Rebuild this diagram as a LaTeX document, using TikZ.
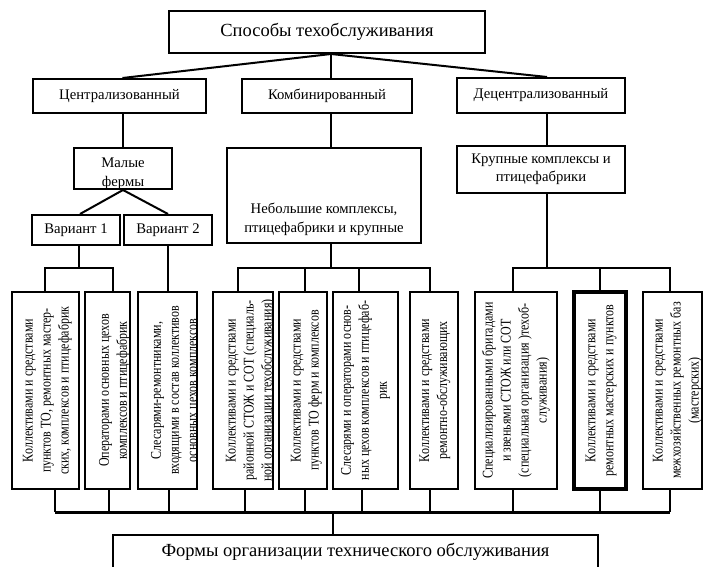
\documentclass[tikz,border=0pt]{standalone}
\usepackage{fontspec}
\setmainfont{Liberation Serif}
\newfontfamily\narrowfont[FakeStretch=0.81]{Liberation Serif}
\begin{document}
\begin{tikzpicture}[x=1pt,y=-1pt,
      box/.style={draw,line width=2pt,inner sep=2pt,align=center,font=\fontsize{14.7}{18.5}\selectfont},
      bigbox/.style={box,font=\fontsize{18.5}{22}\selectfont},
      ptext/.style={draw=none,anchor=north,align=center,inner sep=0pt,minimum width=0pt,minimum height=0pt,font=\fontsize{14.7}{18.5}\selectfont},
      vbox/.style={draw,minimum height=197pt},
      vtext/.style={draw=none,rotate=90,anchor=north,align=center,inner sep=0pt,minimum width=0pt,minimum height=0pt,font=\narrowfont\fontsize{14.8}{18}\selectfont},
      link/.style={line width=2pt},
      bus/.style={line width=3pt}]
    \clip (0,0) rectangle (704,567);
    \node[bigbox,minimum width=316pt,minimum height=42pt] (top) at (327,32) {Способы техобслуживания};
    \node[box,minimum width=173pt,minimum height=34pt] (cent) at (119.5,96) {Централизованный};
    \node[box,minimum width=170pt,minimum height=34pt] (comb) at (327,96) {Комбинированный};
    \node[box,minimum width=168pt,minimum height=35pt] (decent) at (541,95.5) {Децентрализованный};
    \node[box,minimum width=98pt,minimum height=41pt,
      path picture={\node[ptext] at ([yshift=-9pt]path picture bounding box.north) {Малые\\фермы};}] (ferm) at (123,168.5) {};
    \node[box,minimum width=88pt,minimum height=30pt] (var1) at (76,230) {Вариант 1};
    \node[box,minimum width=88pt,minimum height=30pt] (var2) at (168,230) {Вариант 2};
    \node[box,minimum width=194pt,minimum height=95pt,
      path picture={\node[ptext] at ([yshift=-54pt]path picture bounding box.north) {Небольшие комплексы,\\птицефабрики и крупные};}] (small) at (324,195.5) {};
    \node[box,minimum width=168pt,minimum height=47pt] (large) at (541,169.5) {Крупные комплексы и\\птицефабрики};
    \node[bigbox,minimum width=485pt,minimum height=34pt] (forms) at (355.5,552) {Формы организации технического обслуживания};
    % vertical boxes
    \foreach \n/\cx/\w/\lw/\off/\txt in {
      1/45.5/67/2/10/{Коллективами и средствами\\пунктов ТО, ремонтных мастер-\\ских, комплексов и птицефабрик},
      2/107.5/45/2/13/{Операторами основных цехов\\комплексов и птицефабрик},
      3/167.5/59/2/12/{Слесарями-ремонтниками,\\входящими в состав коллективов\\основных цехов комплексов},
      4/243/60/2/12/{Коллективами и средствами\\районной СТОЖ и СОТ (специаль-\\ной организации техобслуживания)},
      5/303/48/2/11/{Коллективами и средствами\\пунктов ТО ферм и комплексов},
      6/365.5/65/2/7/{Слесарями и операторами основ-\\ных цехов комплексов и птицефаб-\\рик},
      7/433.5/48/2/9/{Коллективами и средствами\\ремонтно-обслуживающих},
      8/516/82/2/6/{Специализированными бригадами\\и звеньями СТОЖ или СОТ\\(специальная организация )техоб-\\служивания)},
      9/600/52/3.2/10/{Коллективами и средствами\\ремонтных мастерских и пунктов},
      10/672.5/59/2/9/{Коллективами и средствами\\межхозяйственных ремонтных баз\\(мастерских)}} {
      \node[vbox,minimum width=\w pt,line width=\lw pt,
        path picture={\node[vtext] at ([xshift=\off pt]path picture bounding box.west) {\txt};}] (b\n) at (\cx,390.5) {};
    }
    % drop points above and below the vertical boxes
    \foreach \n/\t/\d in {1/-0.5/9.5,2/5.5/1.5,3/0.5/1.5,4/-5/2,5/2/2,
                          6/-6.5/-3.5,7/-3.5/-3.5,8/-3/-3,9/0/0,10/-2.5/-2.5} {
      \coordinate (t\n) at ([xshift=\t pt]b\n.north);
      \coordinate (d\n) at ([xshift=\d pt]b\n.south);
    }
    \coordinate (tx) at ([xshift=4pt]top.south);
    \coordinate (cx) at ([xshift=4pt]comb.south);
    \coordinate (dx) at ([xshift=6pt]decent.south);
    \coordinate (up) at (0,268);
    \coordinate (dn) at (0,512);
    % upper links
    \draw[link] (tx) -- ([xshift=3pt]cent.north);
    \draw[link] (tx) -- (cx |- comb.north);
    \draw[link] (tx) -- (dx |- decent.north);
    \draw[link] (ferm.north |- cent.south) -- (ferm.north);
    \draw[link] (ferm.south) -- ([xshift=4pt]var1.north);
    \draw[link] (ferm.south) -- (var2.north);
    \draw[link] (cx) -- (cx |- small.north);
    \draw[link] (dx) -- (dx |- large.north);
    % branches to the vertical boxes
    \draw[link] ([xshift=3pt]var1.south) -- ([xshift=3pt]var1.south |- up);
    \draw[link] (t1) |- (t2 |- up) -- (t2);
    \draw[link] (var2.south) -- (t3);
    \draw[link] (cx |- small.south) -- (cx |- up);
    \draw[link] (t4) |- (t7 |- up) -- (t7);
    \foreach \n in {5,6}
      \draw[link] (t\n) -- (t\n |- up);
    \draw[link] (dx |- large.south) -- (dx |- up);
    \draw[link] (t8) |- (t10 |- up) -- (t10);
    \draw[link] (t9) -- (t9 |- up);
    % bottom bus
    \draw[bus] (d1 |- dn) -- (d10 |- dn);
    \foreach \n in {1,...,10}
      \draw[link] (d\n) -- (d\n |- dn);
    \draw[link] ([xshift=-22.5pt]forms.north) -- ([xshift=-22.5pt]forms.north |- dn);
  \end{tikzpicture}
\end{document}
